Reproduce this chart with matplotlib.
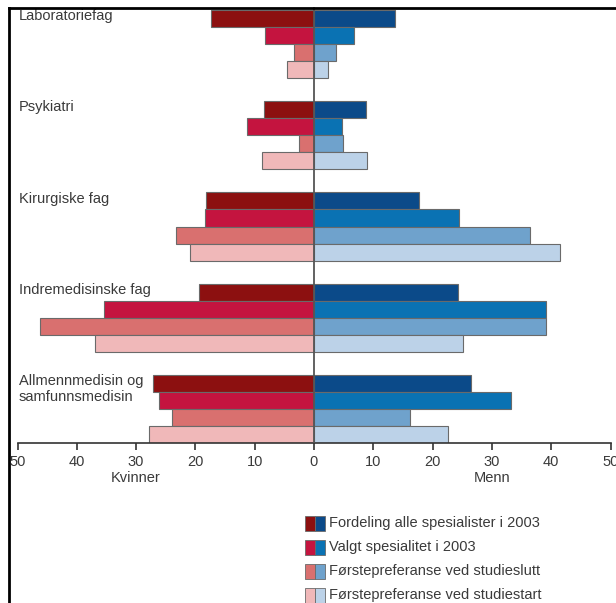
import numpy as np
import matplotlib.pyplot as plt
from matplotlib.patches import Rectangle
from matplotlib.lines import Line2D

plt.rcParams['font.family'] = ['Liberation Sans', 'DejaVu Sans']

kategorier = ['Laboratoriefag', 'Psykiatri', 'Kirurgiske fag',
              'Indremedisinske fag', 'Allmennmedisin og\nsamfunnsmedisin']
serier = ['Fordeling alle spesialister i 2003', 'Valgt spesialitet i 2003',
          'Førstepreferanse ved studieslutt', 'Førstepreferanse ved studiestart']

# prosent, en rad per kategori, en kolonne per serie
kvinner = [[17.4, 8.3, 3.4, 4.6],
           [8.4, 11.3, 2.5, 8.8],
           [18.2, 18.4, 23.3, 20.9],
           [19.4, 35.4, 46.2, 37.0],
           [27.1, 26.1, 23.9, 27.8]]
menn = [[13.6, 6.7, 3.7, 2.4],
        [8.7, 4.8, 4.9, 9.0],
        [17.7, 24.5, 36.5, 41.4],
        [24.2, 39.1, 39.1, 25.2],
        [26.5, 33.3, 16.2, 22.6]]

tick_verdier = [-50, -40, -30, -20, -10, 0, 10, 20, 30, 40, 50]

rode = ['#8c1010', '#c4143f', '#d9706f', '#f0b8b9']
bla = ['#0b4a89', '#0a72b3', '#6fa2cc', '#bcd2e8']
kant = '#6a6a6a'
tekst = '#3a3a3a'
fs = 10.5

W, H = 616, 603
fig = plt.figure(figsize=(W / 100, H / 100), dpi=100)
ax = fig.add_axes([17.5 / W, (H - 443) / H, (610.5 - 17.5) / W, 443 / H])

periode = 91 / 17
kv = np.array(kvinner)
me = np.array(menn)
for g in range(len(kategorier)):
    for j in range(4):
        y = g * periode + j + 0.5
        ax.barh(y, -kv[g, j], height=1, color=rode[j], edgecolor=kant, linewidth=0.8)
        ax.barh(y, me[g, j], height=1, color=bla[j], edgecolor=kant, linewidth=0.8)
    ax.text(-49.8, g * periode - 0.05, kategorier[g], ha='left', va='top',
            fontsize=fs, color=tekst, linespacing=1.15)

ax.axvline(0, ymax=435 / 443, color='#555555', linewidth=1.3, zorder=5)
ax.set_xlim(-50, 50)
ax.set_ylim(4 * periode + 4, -10 / 17)
for s in ['top', 'right', 'left']:
    ax.spines[s].set_visible(False)
ax.spines['bottom'].set_color('#333333')
ax.spines['bottom'].set_linewidth(1.2)
ax.set_yticks([])
ax.set_xticks(tick_verdier)
ax.set_xticklabels([str(abs(v)) for v in tick_verdier])
ax.tick_params(axis='x', length=5, width=1.2, color='#333333', labelsize=fs,
               labelcolor=tekst, pad=4)

ax.text(-30, -0.079, 'Kvinner', transform=ax.get_xaxis_transform(), ha='center',
        va='center', fontsize=fs, color=tekst)
ax.text(30, -0.079, 'Menn', transform=ax.get_xaxis_transform(), ha='center',
        va='center', fontsize=fs, color=tekst)

# forklaring med todelte ruter
for i, navn in enumerate(serier):
    yc = 523 + i * 24
    fig.add_artist(Rectangle((305 / W, (H - yc - 7.5) / H), 10 / W, 15 / H,
                             facecolor=rode[i], edgecolor=kant, linewidth=0.6,
                             transform=fig.transFigure))
    fig.add_artist(Rectangle((315 / W, (H - yc - 7.5) / H), 10 / W, 15 / H,
                             facecolor=bla[i], edgecolor=kant, linewidth=0.6,
                             transform=fig.transFigure))
    fig.text(329 / W, (H - yc) / H, navn, ha='left', va='center', fontsize=fs,
             color=tekst)

# ramme øverst og til venstre
fig.add_artist(Line2D([9 / W, 9 / W], [0, (H - 8) / H], color='black', linewidth=2))
fig.add_artist(Line2D([9 / W, 1], [(H - 8) / H, (H - 8) / H], color='black', linewidth=2))

fig.savefig('out.png', dpi=100)
